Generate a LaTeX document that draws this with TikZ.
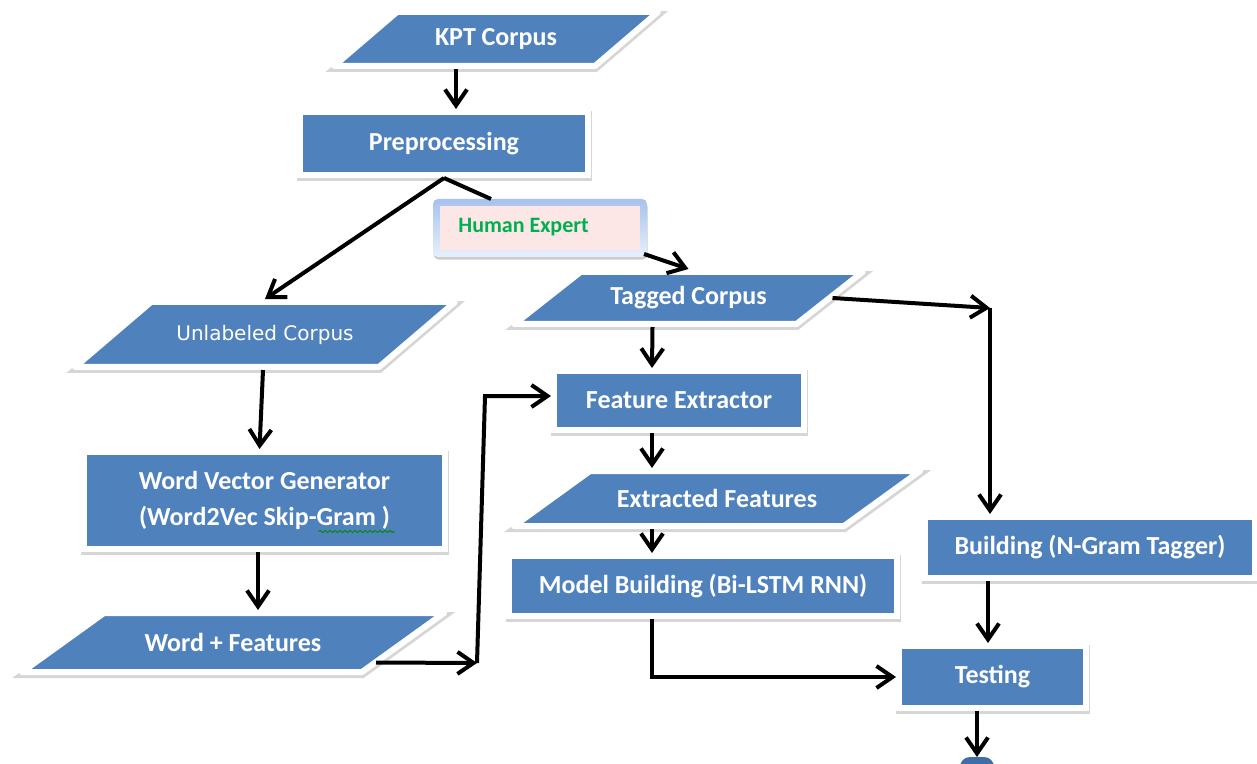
\documentclass[tikz,border=0pt]{standalone}
\usepackage{fontspec}
\setmainfont{Carlito}
\newfontfamily\dejavu{DejaVu Sans}
\usetikzlibrary{arrows.meta,calc,shadows,decorations.pathmorphing}

\definecolor{boxblue}{HTML}{4F81BD}
\definecolor{outblue}{HTML}{3F6DA6}
\definecolor{expertgreen}{HTML}{00B050}
\definecolor{expertpink}{HTML}{FDE6E6}
\definecolor{framelight}{HTML}{E8F0FC}
\definecolor{framedark}{HTML}{A6C2EE}

% Coordinates are given in pixel units (x to the right, y downwards).
\tikzset{
  x=0.5pt, y=-0.5pt,
  rimshadow/.style={drop shadow={shadow xshift=0.3pt, shadow yshift=-1.3pt,
      opacity=0.16, fill=black, draw=black, line width=3.4pt}},
  softshadow/.style={drop shadow={shadow xshift=0.3pt, shadow yshift=-1.3pt,
      opacity=0.2, fill=black}},
  boxnode/.style={rectangle, fill=boxblue, draw=white, line width=3pt, rimshadow,
      text=white, font=\bfseries\fontsize{13}{18}\selectfont, inner sep=0pt, align=center},
  slantshape/.style={fill=boxblue, draw=white, line width=3pt, line join=round, rimshadow},
  slanttext/.style={rectangle, inner sep=0pt, outer sep=1.5pt, text=white,
      font=\bfseries\fontsize{13}{16}\selectfont, align=center},
  arr/.style={draw=black, line width=2pt, -{Straight Barb[length=8pt,width=11pt]}},
  link/.style={draw=black, line width=2pt},
  spell/.style={draw=green!55!black, line width=0.5pt, decorate,
      decoration={snake, amplitude=0.5pt, segment length=2.5pt}},
}

% name, centre x, centre y, half width, half height, half slant, text
\newcommand\slantbox[7]{%
  \path[slantshape] (#2-#4-#6,#3+#5) -- (#2-#4+#6,#3-#5) -- (#2+#4+#6,#3-#5) -- (#2+#4-#6,#3+#5) -- cycle;
  \node[slanttext, minimum width=#4pt, minimum height=#5pt] (#1) at (#2,#3) {#7};
}

\begin{document}
\begin{tikzpicture}
\useasboundingbox (0,0) rectangle (1257,764);

% data shapes
\slantbox{kpt}{496}{39}{130.5}{27}{31.5}{KPT Corpus}
\slantbox{unlab}{265}{334.5}{152}{32.5}{38}{\dejavu\mdseries\fontsize{10}{12}\selectfont Unlabeled Corpus}
\slantbox{tagged}{688.5}{298}{141}{26}{33}{Tagged Corpus}
\slantbox{extr}{717}{498.5}{165}{27.5}{38}{Extracted Features}
\slantbox{wf}{233}{642.5}{170}{29.5}{41}{Word + Features}

% process boxes
\node[boxnode, minimum width=144pt, minimum height=31.5pt] (preproc) at (444,143.5) {Preprocessing};
\node[boxnode, minimum width=125pt, minimum height=29.5pt] (feat) at (679,400.5) {Feature Extractor};
\node[boxnode, minimum width=194pt, minimum height=30pt] (model) at (703,586) {Model Building (Bi-LSTM RNN)};
\node[boxnode, minimum width=165pt, minimum height=30.5pt] (ngram) at (1090,547.5) {Building (N-Gram Tagger)};
\node[boxnode, minimum width=93.5pt, minimum height=31pt] (test) at (992.5,677) {Testing};
\node[boxnode, minimum width=180.5pt, minimum height=48.5pt] (wvg) at (264.5,500.5)
  {Word Vector Generator\\(Word2Vec Skip-Gram )};
\draw[spell] ($(wvg.center)+(54,31)$) -- ($(wvg.center)+(130,31)$);

% human expert callout
\node[rounded corners=2.5pt, top color=framedark, bottom color=framelight, softshadow,
      minimum width=107pt, minimum height=29pt, inner sep=0pt, outer sep=0pt] (human) at (540,228) {};
\node[fill=expertpink, minimum width=100pt, minimum height=22pt, inner sep=0pt] (humanin) at (human.center) {};
\node[anchor=west, text=expertgreen, font=\bfseries\fontsize{11}{13}\selectfont, inner sep=0pt]
  (humanlbl) at ($(human.west)+(25,-1)$) {Human Expert};

% output terminal (cut by the page edge)
\node[fill=outblue, rounded corners=5pt, minimum width=17pt, minimum height=14pt,
      inner sep=0pt, outer sep=0pt] (out) at (977,771) {};

% connectors
\draw[arr] ($(kpt.south)+(-40,0)$) -- ($(preproc.north)+(12,0)$);
\draw[arr] (preproc.south) -- (unlab.north);
\draw[link] (preproc.south) -- ($(human.north west)+(58,0)$);
\draw[arr] ($(human.south east)+(-3,-3)$) -- (tagged.north);
\draw[arr] ($(tagged.south)+(-36,0)$) -- ($(feat.north)+(-27,0)$);
\draw[arr] ($(feat.south)+(-27,0)$) -- ($(extr.north)+(-65,0)$);
\draw[arr] ($(extr.south)+(-65,0)$) -- ($(model.north)+(-51,0)$);
\draw[arr] ($(model.south)+(-51,0)$) |- (test.west);

\coordinate (c1) at (990,308);
\draw[arr] (tagged.east) -- (c1);
\draw[arr] (c1) -- (c1 |- ngram.north);
\draw[arr] ($(ngram.south)+(-102,0)$) -- ($(test.north)+(-4.5,0)$);
\draw[arr] ($(test.south)+(-15.5,0)$) -- (out.north);

\draw[arr] ($(unlab.south)+(-2,0)$) -- ($(wvg.north)+(-5,0)$);
\draw[arr] ($(wvg.south)+(-6.5,0)$) -- ($(wf.north)+(25,0)$);

\coordinate (c2) at (477,663);
\coordinate (c3) at (485,396);
\draw[arr] ($(wf.east)+(-30,20)$) -- (c2);
\draw[arr] (c2) -- (c3) -- (c3 -| feat.west);
\end{tikzpicture}
\end{document}
